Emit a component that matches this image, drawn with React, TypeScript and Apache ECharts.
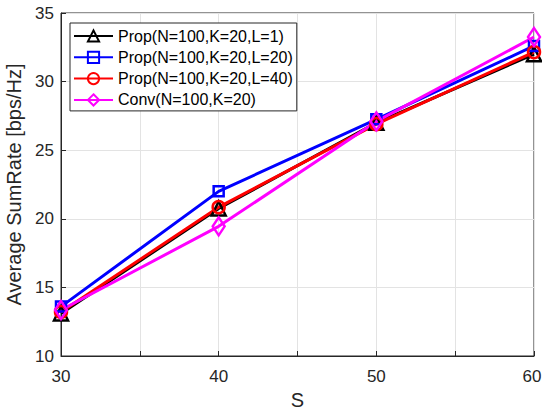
import React, { useEffect, useRef } from "react";
import * as echarts from "echarts";

const xValues = [30, 40, 50, 60];
const seriesNames = [
  "Prop(N=100,K=20,L=1)",
  "Prop(N=100,K=20,L=20)",
  "Prop(N=100,K=20,L=40)",
  "Conv(N=100,K=20)",
];
const propL1 = [13.1, 20.75, 27.0, 32.0];
const propL20 = [13.6, 22.0, 27.25, 32.6];
const propL40 = [13.2, 20.85, 26.9, 32.15];
const conv = [13.35, 19.45, 27.1, 33.25];
const colors = ["#000000", "#0000ff", "#ff0000", "#ff00ff"];
const symbols = ["triangle", "rect", "circle", "diamond"];
const symbolSizes: (number | number[])[] = [14, 10, 12, [12, 18]];

export default function App() {
  const ref = useRef<HTMLDivElement>(null);
  useEffect(() => {
    if (!ref.current) return;
    const chart = echarts.init(ref.current, undefined, { renderer: "svg" });
    const all = [propL1, propL20, propL40, conv];
    const font = "Liberation Sans, Arial, Helvetica, sans-serif";
    chart.setOption({
      animation: false,
      backgroundColor: "#ffffff",
      grid: {
        left: 61,
        right: 8,
        top: 13,
        bottom: 57,
        outerBoundsMode: "none",
        containLabel: false,
        show: true,
        borderColor: "#262626",
        borderWidth: 1,
        backgroundColor: "transparent",
      },
      legend: {
        orient: "vertical",
        left: 70,
        top: 23,
        padding: [5, 4, 3, 3],
        itemWidth: 39,
        itemHeight: 14,
        itemGap: 5.3,
        itemTextGap: 4,
        borderColor: "#262626",
        borderWidth: 1,
        backgroundColor: "#ffffff",
        textStyle: { fontFamily: font, fontSize: 16, color: "#000000" },
        data: seriesNames,
      },
      xAxis: {
        type: "value",
        min: 30,
        max: 60,
        interval: 5,
        name: "S",
        nameLocation: "middle",
        nameGap: 33,
        nameTextStyle: { fontFamily: font, fontSize: 20, color: "#262626" },
        axisLine: { show: true, lineStyle: { color: "#262626", width: 1 } },
        axisTick: { show: true, inside: true, length: 5, lineStyle: { color: "#262626" } },
        axisLabel: {
          margin: 12,
          fontFamily: font,
          fontSize: 17,
          color: "#262626",
          formatter: (v: number) =>
            v === 60 ? "{r|60}" : v % 10 === 0 ? String(v) : "",
          rich: {
            r: { fontFamily: font, fontSize: 17, color: "#262626", padding: [0, 4, 0, 0] },
          },
        },
        splitLine: { show: true, lineStyle: { color: "#e3e3e3", width: 1 } },
      },
      yAxis: {
        type: "value",
        min: 10,
        max: 35,
        interval: 5,
        name: "Average SumRate [bps/Hz]",
        nameLocation: "middle",
        nameGap: 34,
        nameTextStyle: { fontFamily: font, fontSize: 20, color: "#262626" },
        axisLine: { show: true, lineStyle: { color: "#262626", width: 1 } },
        axisTick: { show: true, inside: true, length: 5, lineStyle: { color: "#262626" } },
        axisLabel: { margin: 7, fontFamily: font, fontSize: 17, color: "#262626" },
        splitLine: { show: true, lineStyle: { color: "#e3e3e3", width: 1 } },
      },
      series: seriesNames.map((name, i) => ({
        name,
        type: "line",
        data: xValues.map((x, j) => [x, all[i][j]]),
        symbol: symbols[i],
        symbolSize: symbolSizes[i],
        showSymbol: true,
        lineStyle: { color: colors[i], width: 3 },
        itemStyle: { color: "rgba(255,255,255,0)", borderColor: colors[i], borderWidth: 2.5 },
        emphasis: { disabled: true },
      })),
    });
    return () => chart.dispose();
  }, []);
  return (
    <div
      ref={ref}
      style={{ position: "fixed", left: 0, top: 0, width: 542, height: 413 }}
    />
  );
}
